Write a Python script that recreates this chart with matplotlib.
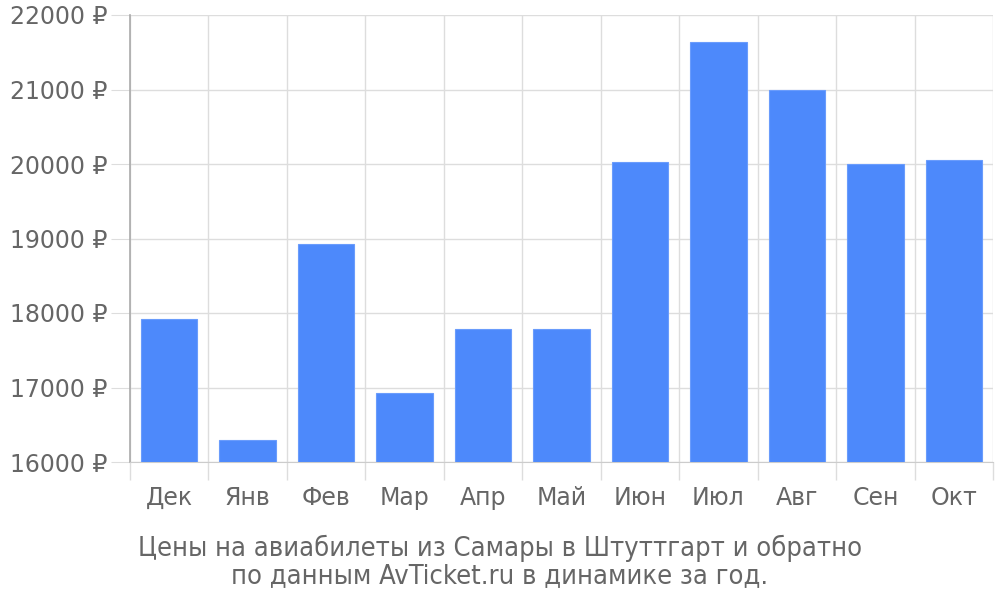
import numpy as np
import matplotlib
matplotlib.use("Agg")
import matplotlib.pyplot as plt

months = ["Дек", "Янв", "Фев", "Мар", "Апр", "Май", "Июн", "Июл", "Авг", "Сен", "Окт"]
prices = [17920, 16295, 18926, 16926, 17785, 17790, 20027, 21638, 20993, 20000, 20054]
yticks = [16000, 17000, 18000, 19000, 20000, 21000, 22000]
caption = ("Цены на авиабилеты из Самары в Штуттгарт и обратно\n"
           "по данным AvTicket.ru в динамике за год.")

BLUE = "#4d89fb"
TEXT = "#666666"
GRID = "#dddddd"

plt.rcParams["font.family"] = ["DejaVu Sans"]

fig = plt.figure(figsize=(10, 6), dpi=100)
ax = fig.add_axes([0.130, 0.23, 0.863, 0.745])

x = np.arange(len(months))
ax.bar(x, [p - yticks[0] for p in prices], bottom=yticks[0], width=0.72,
       color=BLUE, edgecolor="#6a9cfc", lw=0.8, zorder=3)

ax.set_xlim(-0.5, len(months) - 0.5)
ax.set_ylim(yticks[0], yticks[-1])
ax.set_yticks(yticks)
ax.set_yticklabels([f"{v} ₽" for v in yticks])
ax.set_xticks(x)
ax.set_xticklabels(months)
ax.set_xticks(np.arange(len(months) + 1) - 0.5, minor=True)

ax.tick_params(axis="y", length=14, color=GRID, labelsize=17, labelcolor=TEXT, pad=2)
ax.tick_params(axis="x", which="major", length=0, labelsize=17, labelcolor=TEXT, pad=17)
ax.tick_params(axis="x", which="minor", length=13, color=GRID, width=1)

ax.grid(True, axis="y", color=GRID, lw=1, zorder=0)
ax.grid(True, axis="x", which="minor", color=GRID, lw=1, zorder=0)

for s in ["top", "right"]:
    ax.spines[s].set_visible(False)
ax.spines["bottom"].set_color("#cccccc")
ax.spines["left"].set_color("#aaaaaa")
ax.spines["left"].set_linewidth(1.2)

fig.text(0.5, 0.063, caption, ha="center", va="center", fontsize=19.5,
         color=TEXT, linespacing=1.05, fontstretch="condensed")

fig.savefig("out.png", dpi=100)
